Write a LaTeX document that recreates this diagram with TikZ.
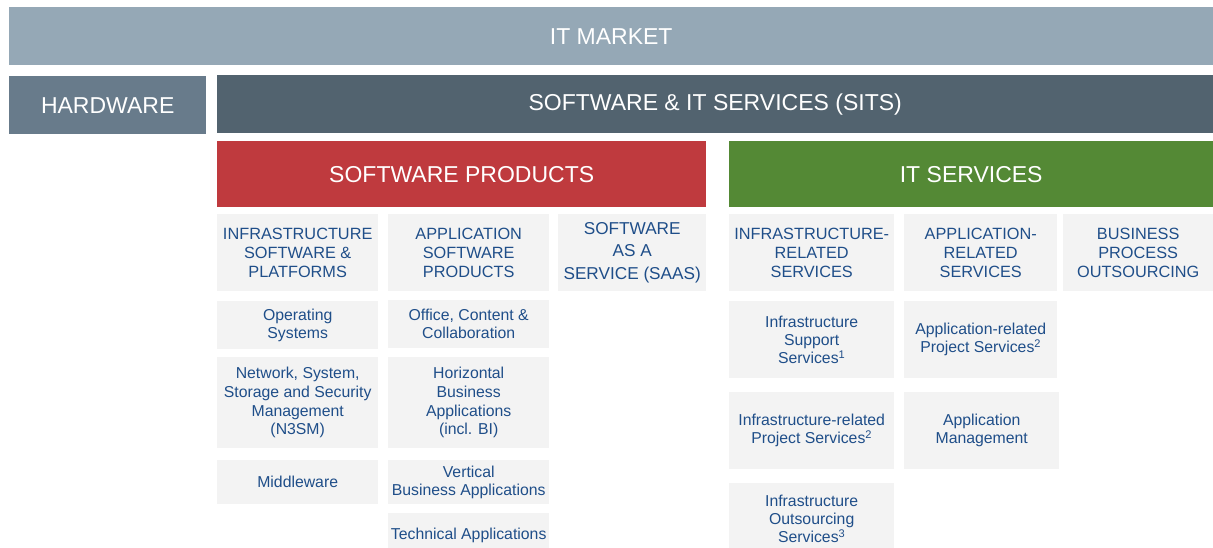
\documentclass[tikz,border=0pt]{standalone}
\usepackage{fontspec}
\setmainfont{Liberation Sans}
\usepackage{tikz}

\definecolor{marketgray}{HTML}{95A8B6}
\definecolor{hardgray}{HTML}{687B8B}
\definecolor{sitsgray}{HTML}{52636F}
\definecolor{prodred}{HTML}{BF3A3E}
\definecolor{servgreen}{HTML}{548935}
\definecolor{cellgray}{HTML}{F3F3F3}
\definecolor{textblue}{HTML}{1F4E89}

\tikzset{
  band/.style={anchor=north west, inner sep=0pt, text=white, font=\fontsize{23}{27}\selectfont},
  cell/.style={anchor=north west, inner sep=0pt, fill=cellgray, text=textblue, align=center,
    font=\fontsize{15.8}{18}\selectfont},
  capcell/.style={cell, font=\fontsize{16.3}{19.3}\selectfont},
  size/.style 2 args={minimum width=#1pt, minimum height=#2pt}
}

\begin{document}
\begin{tikzpicture}[x=1pt, y=-1pt]
            \clip (0,0) rectangle (1213,548);
            \fill[white] (0,0) rectangle (1213,548);

            % Define top bands
            \node[band, fill=marketgray, size={1204}{58}] (market) at (9,7) {IT MARKET};
            \node[band, fill=hardgray, size={197}{58}] (hardware) at (9,76) {HARDWARE};
            \node[band, fill=sitsgray, size={996}{58}] (sits) at (217,75) {SOFTWARE \& IT SERVICES (SITS)};
            \node[band, fill=prodred, size={489}{66}] (swprod) at (217,141) {SOFTWARE PRODUCTS};
            \node[band, fill=servgreen, size={484}{66}] (itserv) at (729,141) {IT SERVICES};

            % Define software product cells
            \node[capcell, size={161}{77}] (infsw) at (217,214) {INFRASTRUCTURE\\SOFTWARE \&\\PLATFORMS};
            \node[cell, size={161}{48}] (opsys) at (217,301) {Operating\\Systems};
            \node[cell, size={161}{91}, font=\fontsize{15.8}{18.7}\selectfont] (n3sm) at (217,357)
              {Network, System,\\Storage and Security\\Management\\(N3SM)};
            \node[cell, size={161}{44}] (middle) at (217,460) {Middleware};

            \node[capcell, size={161}{77}] (appsw) at (388,214) {APPLICATION\\SOFTWARE\\PRODUCTS};
            \node[cell, size={161}{48}] (office) at (388,300) {Office, Content \&\\Collaboration};
            \node[cell, size={161}{91}, font=\fontsize{15.8}{18.7}\selectfont] (horiz) at (388,357)
              {Horizontal\\Business\\Applications\\(incl. BI)};
            \node[cell, size={161}{44}] (vert) at (388,460) {Vertical\\Business Applications};
            \node[cell, size={161}{44}] (tech) at (388,513) {Technical Applications};

            \node[capcell, size={148}{77}, font=\fontsize{17.2}{22.5}\selectfont] (saas) at (558,214)
              {SOFTWARE\\AS A\\SERVICE (SAAS)};

            % Define IT service cells
            \node[capcell, size={165}{77}] (infrel) at (729,214) {INFRASTRUCTURE-\\RELATED\\SERVICES};
            \node[cell, size={165}{77}] (infsup) at (729,301) {Infrastructure\\Support\\Services\textsuperscript{1}};
            \node[cell, size={165}{77}] (infproj) at (729,392) {Infrastructure-related\\Project Services\textsuperscript{2}};
            \node[cell, size={165}{72}] (infout) at (729,483) {Infrastructure\\Outsourcing\\Services\textsuperscript{3}};

            \node[capcell, size={153}{77}] (apprel) at (904,214) {APPLICATION-\\RELATED\\SERVICES};
            \node[cell, size={153}{77}] (appproj) at (904,301) {Application-related\\Project Services\textsuperscript{2}};
            \node[cell, size={155}{77}] (appmgmt) at (904,392) {Application\\Management};

            \node[capcell, size={150}{77}] (bpo) at (1063,214) {BUSINESS\\PROCESS\\OUTSOURCING};
        \end{tikzpicture}
\end{document}
